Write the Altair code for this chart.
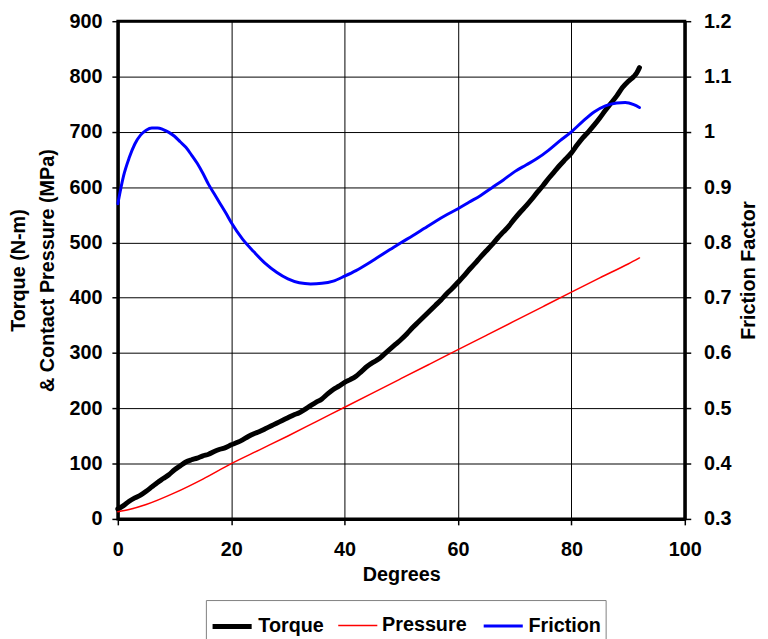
import altair as alt
import pandas as pd

# ---- data ----
deg_torque = [0, 1, 2, 3, 4, 5, 6, 7, 8, 9, 10, 11, 12, 13, 14, 15, 16, 17, 18, 19,
              20, 21, 22, 23, 24, 25, 26, 27, 28, 29, 30, 31, 32, 33, 34, 35, 36, 37, 38, 39,
              40, 41, 42, 43, 44, 45, 46, 47, 48, 49, 50, 51, 52, 53, 54, 55, 56, 57, 58, 59,
              60, 61, 62, 63, 64, 65, 66, 67, 68, 69, 70, 71, 72, 73, 74, 75, 76, 77, 78, 79,
              80, 81, 82, 83, 84, 85, 86, 87, 88, 89, 90, 91, 91.5, 92]
torque = [18, 24, 32, 38, 43, 50, 58, 66, 73, 80, 89, 96, 103, 107, 110, 114, 117, 122, 126, 129,
          134, 138, 143, 149, 154, 158, 163, 168, 173, 178, 183, 188, 192, 198, 205, 211, 217, 226, 234, 240,
          247, 252, 258, 267, 276, 283, 289, 298, 307, 316, 325, 335, 346, 356, 366, 376, 386, 396, 407, 417,
          428, 439, 451, 462, 474, 485, 496, 508, 519, 530, 543, 555, 566, 578, 591, 603, 616, 628, 640, 651,
          662, 676, 689, 700, 712, 725, 739, 752, 765, 780, 791, 800, 806, 816]

deg_pressure = [0, 2, 5, 10, 15, 20, 25, 30, 35, 40, 45, 50, 55, 60, 65, 70, 75, 80, 85, 90, 92]
pressure = [13, 17, 26, 47, 72, 100, 125, 150, 176, 202, 228, 254, 280, 306, 332, 358, 384, 410, 436, 461, 472]

deg_friction = [0, 1, 2, 3, 4, 5, 6, 7, 8, 9, 10, 11, 12, 13, 14, 15, 16, 17, 18, 19, 20,
                22, 24, 26, 28, 30, 32, 34, 36, 38,
                40, 42, 44, 46, 48, 50, 52, 54, 56, 58, 60, 62, 64, 66, 68, 70, 72, 74, 76, 78,
                80, 82, 84, 86, 88, 89.5, 91, 92]
friction = [0.870, 0.920, 0.953, 0.978, 0.994, 1.003, 1.007, 1.007, 1.004, 0.999, 0.992, 0.982, 0.972,
            0.958, 0.943, 0.925, 0.905, 0.888, 0.871, 0.854, 0.836,
            0.806, 0.783, 0.762, 0.746, 0.734, 0.727, 0.725, 0.726, 0.730,
            0.739, 0.749, 0.761, 0.774, 0.787, 0.800, 0.812, 0.825, 0.838, 0.850, 0.861, 0.873, 0.885,
            0.899, 0.913, 0.928, 0.940, 0.952, 0.967, 0.984, 1.000, 1.019, 1.036, 1.047, 1.052, 1.053,
            1.049, 1.044]

series_names = ["Torque", "Pressure", "Friction"]
series_colors = ["#000000", "#ff0000", "#0000ff"]
series_widths = [5, 1.5, 3]

x_ticks = [0, 20, 40, 60, 80, 100]
left_ticks = [0, 100, 200, 300, 400, 500, 600, 700, 800, 900]
right_ticks = [0.3, 0.4, 0.5, 0.6, 0.7, 0.8, 0.9, 1.0, 1.1, 1.2]

df_left = pd.concat([
    pd.DataFrame({"deg": deg_torque, "val": torque, "series": "Torque"}),
    pd.DataFrame({"deg": deg_pressure, "val": pressure, "series": "Pressure"}),
], ignore_index=True)
df_right = pd.DataFrame({"deg": deg_friction, "val": friction, "series": "Friction"})

FONT = "Liberation Sans"

legend = alt.Legend(
    title=None, orient="none", legendX=89, legendY=585, direction="horizontal",
    strokeColor="#808080", fillColor="white", padding=4,
    labelFont=FONT, labelFontSize=20, labelFontWeight="bold", labelColor="black",
    symbolType="stroke", symbolSize=1560, columnPadding=10, labelOffset=4,
)

color = alt.Color("series:N", scale=alt.Scale(domain=series_names, range=series_colors), legend=legend)
swidth = alt.StrokeWidth("series:N",
                         scale=alt.Scale(type="ordinal", domain=series_names, range=series_widths),
                         legend=legend)

x_enc = alt.X("deg:Q", scale=alt.Scale(domain=[0, 100], nice=False),
              axis=alt.Axis(values=x_ticks, title="Degrees", grid=True, labelFlush=False,
                            labelPadding=15, titlePadding=5))

left = alt.Chart(df_left).mark_line(interpolate="monotone", strokeCap="round", strokeJoin="round").encode(
    x=x_enc,
    y=alt.Y("val:Q", scale=alt.Scale(domain=[0, 900], nice=False),
            axis=alt.Axis(values=left_ticks, title=["Torque (N-m)", "& Contact Pressure (MPa)"],
                          grid=True, orient="left", labelPadding=10, titlePadding=12,
                          titleLineHeight=29, labelFlush=False)),
    color=color,
    strokeWidth=swidth,
    detail="series:N",
)

right = alt.Chart(df_right).mark_line(interpolate="monotone", strokeCap="round").encode(
    x=x_enc,
    y=alt.Y("val:Q", scale=alt.Scale(domain=[0.3, 1.2], nice=False, zero=False),
            axis=alt.Axis(values=right_ticks, title="Friction Factor", grid=False, orient="right",
                          format=".1~f", labelPadding=13, titlePadding=28, titleAngle=270,
                          labelFlush=False)),
    color=color,
    strokeWidth=swidth,
)

chart = alt.layer(left, right).resolve_scale(y="independent").properties(
    width=573, height=503,
    autosize="none",
    padding={"left": 111, "top": 10, "right": 76, "bottom": 118},
).configure_axis(
    labelFont=FONT, labelFontSize=20, labelFontWeight="bold", labelColor="black",
    titleFont=FONT, titleFontSize=20, titleFontWeight="bold", titleColor="black",
    domainColor="black", domainWidth=3, tickColor="black", tickWidth=1.5, tickSize=6,
    gridColor="black", gridWidth=1, gridOpacity=1,
).configure_view(stroke="black", strokeWidth=3)

chart.save("out.html", embed_options={"renderer": "svg", "actions": False})
